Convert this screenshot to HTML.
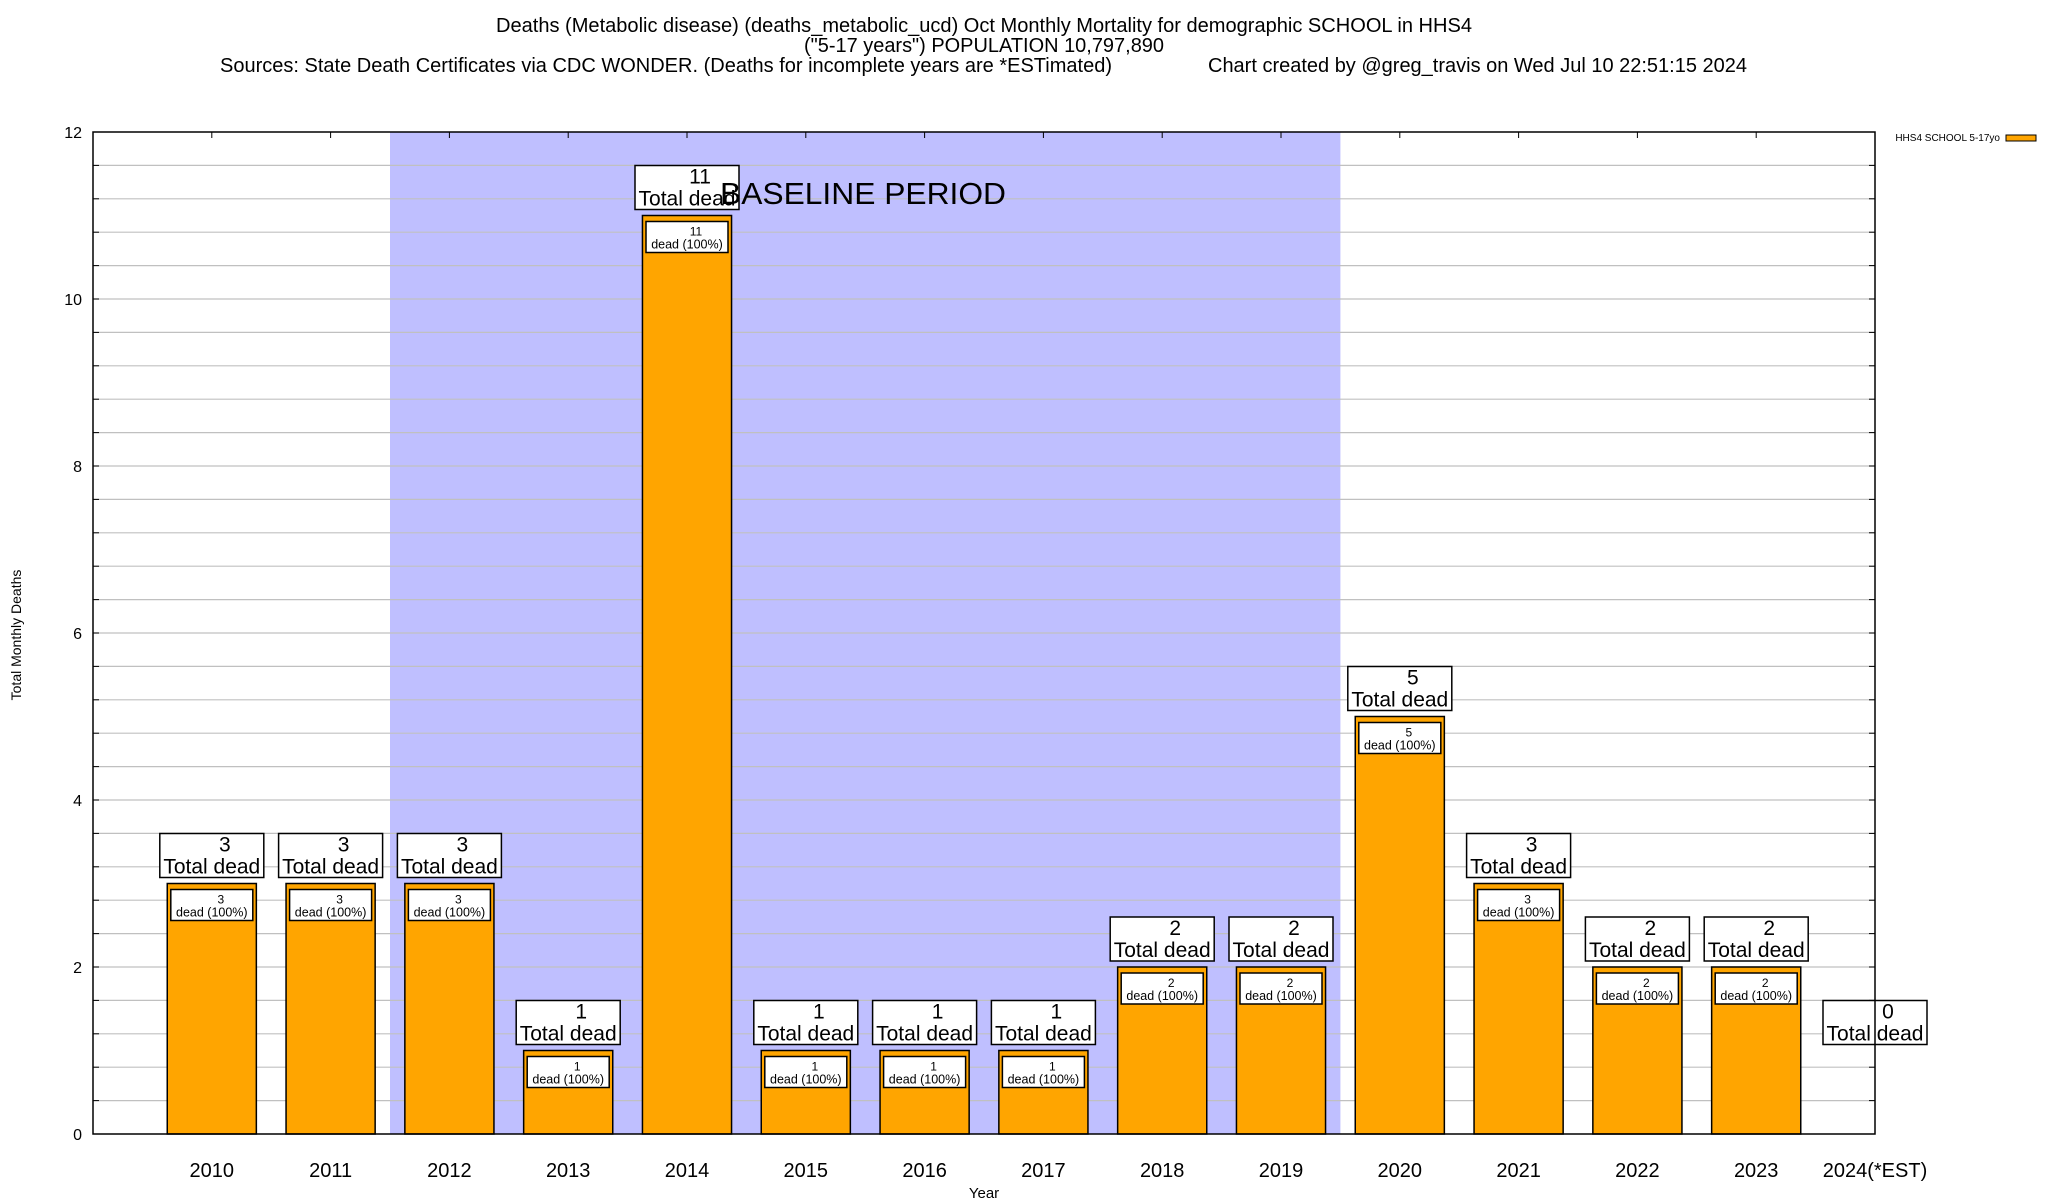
<!DOCTYPE html>
<html><head><meta charset="utf-8"><style>
html,body{margin:0;padding:0;background:#fff;}
svg{display:block;font-family:"Liberation Sans",Arial,sans-serif;}
</style></head><body>
<svg id="chart" width="2048" height="1200" viewBox="0 0 2048 1200" xmlns="http://www.w3.org/2000/svg">
<text x="984" y="32" font-size="20" text-anchor="middle" textLength="976" lengthAdjust="spacingAndGlyphs">Deaths (Metabolic disease) (deaths_metabolic_ucd) Oct Monthly Mortality for demographic SCHOOL in HHS4</text>
<text x="984" y="52" font-size="20" text-anchor="middle" textLength="360" lengthAdjust="spacingAndGlyphs">("5-17 years") POPULATION 10,797,890</text>
<text x="220" y="72" font-size="20" textLength="892" lengthAdjust="spacingAndGlyphs">Sources: State Death Certificates via CDC WONDER. (Deaths for incomplete years are *ESTimated)</text>
<text x="1208" y="72" font-size="20" textLength="539" lengthAdjust="spacingAndGlyphs">Chart created by @greg_travis on Wed Jul 10 22:51:15 2024</text>
<g id="plot"></g>
<text transform="translate(21,635) rotate(-90)" font-size="14" text-anchor="middle">Total Monthly Deaths</text>
<text x="984" y="1198" font-size="15" text-anchor="middle">Year</text>
<text x="2000" y="141" font-size="10" text-anchor="end">HHS4 SCHOOL 5-17yo</text>
<rect x="2006" y="135" width="30" height="6" fill="#ffa500" stroke="#000" stroke-width="1"/>
</svg>
<script>
const categories = ["2010","2011","2012","2013","2014","2015","2016","2017","2018","2019","2020","2021","2022","2023","2024(*EST)"];
const values = [3,3,3,1,11,1,1,1,2,2,5,3,2,2,0];
const yTicks = [0,2,4,6,8,10,12];
const NS = "http://www.w3.org/2000/svg";
const L = 93, R = 1875, T = 132, B = 1134;
const slot = (R - L) / 15;
function xs(i){ return L + (i + 1) * slot; }
function ys(v){ return B - (v / 12) * (B - T); }
const g = document.getElementById('plot');
function mk(tag, attrs, txt){ const e=document.createElementNS(NS,tag); for(const k in attrs) e.setAttribute(k,attrs[k]); if(txt!==undefined) e.textContent=txt; g.appendChild(e); return e; }
const sh = mk('rect',{x:xs(1.5),y:T,width:xs(9.5)-xs(1.5),height:B-T,fill:'#bfbfff'});


for(let k=1;k<30;k++){
  const v=k*0.4, y=ys(v);
  const ln = mk('line',{x1:L,x2:R,y1:y,y2:y,stroke:'#c0c0c0','stroke-width':1.2});
  
  
  mk('line',{x1:L,x2:L+6,y1:y,y2:y,stroke:'#000','stroke-width':1});
  mk('line',{x1:R-6,x2:R,y1:y,y2:y,stroke:'#000','stroke-width':1});
}
yTicks.forEach(t=>{
  const tx = mk('text',{x:82,y:ys(t)+6,'font-size':16,'text-anchor':'end'},String(t));
  
  
});
const bw = slot*0.75;
categories.forEach((c,i)=>{
  const cx = xs(i), v = values[i];
  mk('line',{x1:cx,x2:cx,y1:T,y2:T+6,stroke:'#000'});
  mk('line',{x1:cx,x2:cx,y1:B,y2:B-6,stroke:'#000'});
  if(v>0){
    const r = mk('rect',{x:cx-bw/2,y:ys(v),width:bw,height:B-ys(v),fill:'#ffa500',stroke:'#000','stroke-width':1.5});
    
    
    const ib = mk('rect',{x:cx-41,y:ys(v)+6,width:82,height:31,fill:'#fff',stroke:'#000','stroke-width':1.5});
    
    
    mk('text',{x:cx+9,y:ys(v)+20,'font-size':12,'text-anchor':'middle'},String(v));
    mk('text',{x:cx,y:ys(v)+33,'font-size':12.5,'text-anchor':'middle'},'dead (100%)');
  }
  const top = ys(Math.max(v,1)) - 6;
  const ob = mk('rect',{x:cx-52,y:top-44,width:104,height:44,fill:'#fff',stroke:'#000','stroke-width':1.5});
  
  
  mk('text',{x:cx+13,y:top-26,'font-size':21,'text-anchor':'middle'},String(v));
  mk('text',{x:cx,y:top-4,'font-size':21,'text-anchor':'middle'},'Total dead');
  const xl = mk('text',{x:cx,y:1177,'font-size':20,'text-anchor':'middle'},c);
  
  
});
const bl = mk('text',{x:720,y:204,'font-size':31,textLength:286,lengthAdjust:'spacingAndGlyphs'},'BASELINE PERIOD');


const fr = mk('rect',{x:L,y:T,width:R-L,height:B-T,fill:'none',stroke:'#000','stroke-width':1.5});


</script>
</body></html>
